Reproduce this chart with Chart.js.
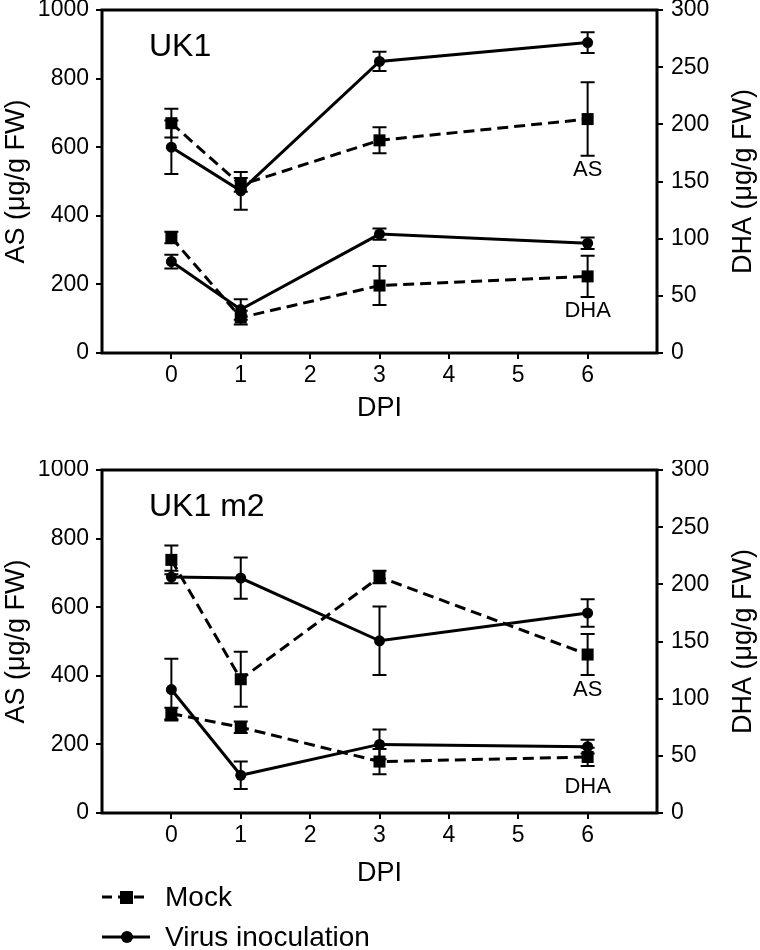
<!DOCTYPE html>
<html>
<head>
<meta charset="utf-8">
<script src="https://cdn.jsdelivr.net/npm/chart.js@4"></script>
<style>
  html, body { margin: 0; padding: 0; background: #fff; }
  body { width: 760px; height: 950px; position: relative; overflow: hidden;
         font-family: "Liberation Sans", Arial, Helvetica, sans-serif; }
  .panel { position: absolute; left: 0; }
  #legend { position: absolute; left: 100px; top: 877px; font-size: 28px; color: #000; }
  #legend .row { display: flex; align-items: center; height: 40px; }
  #legend svg { margin-right: 13px; }
</style>
</head>
<body>
<canvas id="uk1" class="panel" width="760" height="429" style="top:0"></canvas>
<canvas id="m2" class="panel" width="760" height="434" style="top:460px"></canvas>
<div id="legend">
  <div class="row">
    <svg width="52" height="20"><line x1="2" y1="10" x2="50" y2="10" stroke="#000" stroke-width="3" stroke-dasharray="10,6"/><rect x="20" y="4" width="13" height="13" fill="#000"/></svg>
    <span>Mock</span>
  </div>
  <div class="row">
    <svg width="52" height="20"><line x1="2" y1="10" x2="50" y2="10" stroke="#000" stroke-width="3"/><circle cx="27" cy="10" r="6" fill="#000"/></svg>
    <span>Virus inoculation</span>
  </div>
</div>
<script>
// days post inoculation
const dpi = [0, 1, 3, 6];
const xTicks = [0, 1, 2, 3, 4, 5, 6];
const asTicks = [0, 200, 400, 600, 800, 1000];
const dhaTicks = [0, 50, 100, 150, 200, 250, 300];

// UK1 (AS on left axis, DHA on right axis)
const uk1AsMock = [670, 490, 620, 682];
const uk1AsMockErr = [42, 20, 38, 107];
const uk1AsVirus = [600, 473, 850, 905];
const uk1AsVirusErr = [78, 55, 28, 30];
const uk1DhaMock = [101, 31, 59, 67];
const uk1DhaMockErr = [5, 6, 17, 18];
const uk1DhaVirus = [80, 38, 104, 96];
const uk1DhaVirusErr = [6, 9, 5, 5];

// UK1 m2
const m2AsMock = [738, 390, 688, 462];
const m2AsMockErr = [42, 80, 18, 60];
const m2AsVirus = [688, 685, 502, 583];
const m2AsVirusErr = [18, 60, 100, 40];
const m2DhaMock = [87, 75, 45, 49];
const m2DhaMockErr = [5, 5, 11, 8];
const m2DhaVirus = [108, 33, 60, 58];
const m2DhaVirusErr = [27, 12, 13, 6];

const FONT = '"Liberation Sans", Arial, Helvetica, sans-serif';

function pts(vals) {
    return vals.map((v, i) => ({ x: dpi[i], y: v }));
}

function series(vals, errs, axis, mock) {
    return {
        data: pts(vals),
        errors: errs,
        yAxisID: axis,
        borderColor: '#000',
        backgroundColor: '#000',
        borderWidth: 3,
        borderDash: mock ? [11, 6] : [],
        pointStyle: mock ? 'rect' : 'circle',
        pointRadius: mock ? 8.5 : 5.5,
        pointBorderWidth: 0,
        tension: 0
    };
}

// error bars, frame, axis titles and text labels
const panelDecor = {
    id: 'panelDecor',
    beforeDatasetsDraw(chart) {
        const ctx = chart.ctx;
        const xs = chart.scales.x;
        ctx.save();
        ctx.strokeStyle = '#000';
        ctx.lineWidth = 2;
        chart.data.datasets.forEach(ds => {
            const ys = chart.scales[ds.yAxisID];
            ds.data.forEach((p, i) => {
                const e = ds.errors[i];
                const px = xs.getPixelForValue(p.x);
                const top = ys.getPixelForValue(p.y + e);
                const bot = ys.getPixelForValue(p.y - e);
                ctx.beginPath();
                ctx.moveTo(px, top); ctx.lineTo(px, bot);
                ctx.moveTo(px - 7, top); ctx.lineTo(px + 7, top);
                ctx.moveTo(px - 7, bot); ctx.lineTo(px + 7, bot);
                ctx.stroke();
            });
        });
        ctx.restore();
    },
    afterDraw(chart) {
        const o = chart.options.plugins.panelDecor;
        const ctx = chart.ctx;
        const a = chart.chartArea;
        const xs = chart.scales.x;
        ctx.save();
        ctx.strokeStyle = '#000';
        ctx.lineWidth = 3;
        ctx.strokeRect(a.left, a.top, a.right - a.left, a.bottom - a.top);

        ctx.fillStyle = '#000';
        ctx.textBaseline = 'middle';
        ctx.textAlign = 'left';
        ctx.font = '32px ' + FONT;
        ctx.fillText(o.name, a.left + 47, a.top + 37);

        ctx.font = '22px ' + FONT;
        ctx.textAlign = 'center';
        o.notes.forEach(n => {
            ctx.fillText(n.text, xs.getPixelForValue(n.x), chart.scales[n.axis].getPixelForValue(n.y));
        });

        const midY = (a.top + a.bottom) / 2;
        ctx.font = '27px ' + FONT;
        ctx.translate(17, midY);
        ctx.rotate(-Math.PI / 2);
        ctx.fillText('AS (μg/g FW)', 0, 0);
        ctx.setTransform(1, 0, 0, 1, 0, 0);
        ctx.translate(744, midY);
        ctx.rotate(-Math.PI / 2);
        ctx.fillText('DHA (μg/g FW)', 0, 0);
        ctx.restore();
    }
};

function makePanel(id, name, height, sets, notes) {
    const tickFont = { family: FONT, size: 23 };
    const plain = v => String(v);
    const fitY = w => s => { s.width = w; s.paddingTop = 0; s.paddingBottom = 0; };
    return new Chart(document.getElementById(id), {
        type: 'line',
        data: { datasets: sets },
        options: {
            responsive: false,
            animation: false,
            layout: { padding: { top: 10, left: 0, right: 0, bottom: 0 } },
            plugins: {
                legend: { display: false },
                tooltip: { enabled: false },
                panelDecor: { name: name, notes: notes }
            },
            scales: {
                x: {
                    type: 'linear', min: -1, max: 7,
                    afterBuildTicks: s => { s.ticks = xTicks.map(v => ({ value: v })); },
                    afterFit: s => { s.height = height - 353; s.paddingLeft = 0; s.paddingRight = 0; },
                    border: { display: false },
                    grid: { drawOnChartArea: false, color: '#000', lineWidth: 2, tickLength: 6 },
                    ticks: { color: '#000', font: tickFont, padding: 3, maxRotation: 0, callback: plain },
                    title: { display: true, text: 'DPI', color: '#000', font: { family: FONT, size: 27 }, padding: { top: 2, bottom: 4 } }
                },
                y: {
                    position: 'left', min: 0, max: 1000,
                    afterBuildTicks: s => { s.ticks = asTicks.map(v => ({ value: v })); },
                    afterFit: fitY(102),
                    border: { display: false },
                    grid: { drawOnChartArea: false, color: '#000', lineWidth: 2, tickLength: 6 },
                    ticks: { color: '#000', font: tickFont, padding: 7, callback: plain }
                },
                y2: {
                    position: 'right', min: 0, max: 300,
                    afterBuildTicks: s => { s.ticks = dhaTicks.map(v => ({ value: v })); },
                    afterFit: fitY(103),
                    border: { display: false },
                    grid: { drawOnChartArea: false, color: '#000', lineWidth: 2, tickLength: 6 },
                    ticks: { color: '#000', font: tickFont, padding: 8, callback: plain }
                }
            }
        },
        plugins: [panelDecor]
    });
}

makePanel('uk1', 'UK1', 429, [
    series(uk1AsMock, uk1AsMockErr, 'y', true),
    series(uk1AsVirus, uk1AsVirusErr, 'y', false),
    series(uk1DhaMock, uk1DhaMockErr, 'y2', true),
    series(uk1DhaVirus, uk1DhaVirusErr, 'y2', false)
], [
    { text: 'AS', x: 6, y: 534, axis: 'y' },
    { text: 'DHA', x: 6, y: 37, axis: 'y2' }
]);

makePanel('m2', 'UK1 m2', 434, [
    series(m2AsMock, m2AsMockErr, 'y', true),
    series(m2AsVirus, m2AsVirusErr, 'y', false),
    series(m2DhaMock, m2DhaMockErr, 'y2', true),
    series(m2DhaVirus, m2DhaVirusErr, 'y2', false)
], [
    { text: 'AS', x: 6, y: 360, axis: 'y' },
    { text: 'DHA', x: 6, y: 23, axis: 'y2' }
]);
</script>
</body>
</html>
